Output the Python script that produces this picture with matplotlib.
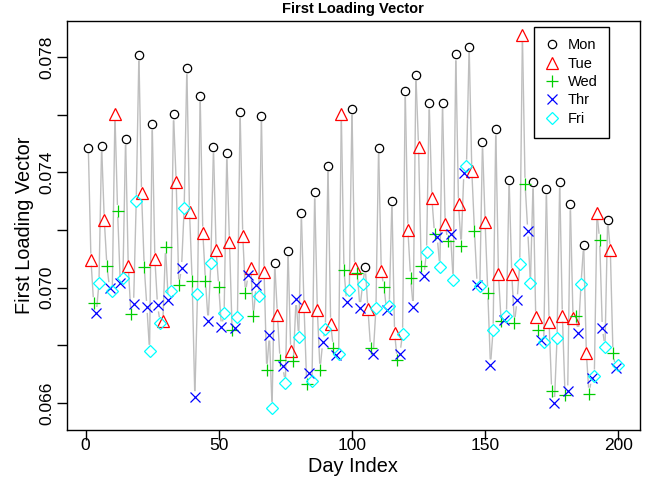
import numpy as np
import matplotlib
matplotlib.use("Agg")
import matplotlib.pyplot as plt
from matplotlib.collections import LineCollection
from matplotlib.lines import Line2D

plt.rcParams['font.family'] = ['Liberation Sans', 'DejaVu Sans']

# day index and loading value for each weekday
mon_day = [1, 6, 15, 20, 25, 33, 38, 43, 48, 53, 58, 66, 71, 76, 81, 86, 91, 100, 105, 110,
           115, 120, 124, 129, 134, 139, 144, 149, 154, 159, 168, 173, 178, 182, 187, 196]
mon_val = [.07486, .07492, .07516, .07807, .07567, .07601, .07761, .07665, .07487, .07466,
           .07609, .07596, .07085, .07128, .07258, .07330, .07423, .07620, .07070, .07486,
           .07301, .07682, .07738, .07639, .07642, .07809, .07836, .07504, .07549, .07374,
           .07365, .07341, .07366, .07289, .07149, .07235]

tue_day = [2, 7, 11, 16, 21, 26, 29, 34, 39, 44, 49, 54, 59, 62, 67, 72, 77, 82, 87, 92,
           96, 101, 106, 111, 116, 121, 125, 130, 135, 140, 145, 150, 155, 160, 164, 169,
           174, 179, 183, 188, 192, 197]
tue_val = [.07097, .07235, .07601, .07074, .07328, .07099, .06883, .07366, .07264, .07191,
           .07129, .07159, .07180, .07068, .07054, .06906, .06781, .06935, .06921, .06875,
           .07601, .07068, .06926, .07058, .06843, .07201, .07489, .07310, .07220, .07289,
           .07405, .07226, .07047, .07047, .07876, .06897, .06881, .06903, .06894, .06773,
           .07258, .07131]

wed_day = [3, 8, 12, 17, 22, 30, 35, 40, 45, 50, 55, 60, 63, 68, 73, 78, 83, 88, 93, 97,
           102, 107, 112, 117, 122, 126, 131, 136, 141, 146, 151, 156, 161, 165, 170, 175,
           180, 184, 189, 193, 198]
wed_val = [.06946, .07074, .07266, .06910, .07071, .07140, .07008, .07022, .07022, .07001,
           .06852, .06981, .06900, .06715, .06750, .06744, .06666, .06715, .06791, .07060,
           .07050, .06791, .07001, .06750, .07035, .07074, .07186, .07162, .07146, .07195,
           .06983, .06883, .06877, .07360, .06854, .06643, .06629, .06903, .06632, .07166,
           .06773]

thr_day = [4, 9, 13, 18, 23, 27, 31, 36, 41, 46, 51, 56, 61, 64, 69, 74, 79, 84, 89, 94,
           98, 103, 108, 113, 118, 123, 127, 132, 137, 142, 147, 152, 157, 162, 166, 171,
           176, 181, 185, 190, 194, 199]
thr_val = [.06912, .06998, .07016, .06944, .06933, .06938, .06958, .07068, .06620, .06883,
           .06862, .06860, .07045, .07008, .06837, .06727, .06960, .06704, .06810, .06767,
           .06949, .06929, .06770, .06923, .06771, .06933, .07041, .07177, .07186, .07397,
           .07010, .06730, .06889, .06956, .07198, .06817, .06600, .06640, .06843, .06687,
           .06860, .06721]

fri_day = [5, 10, 14, 19, 24, 28, 32, 37, 42, 47, 52, 57, 65, 70, 75, 80, 85, 90, 95, 99,
           104, 109, 114, 119, 128, 133, 138, 143, 148, 153, 158, 163, 167, 172, 177, 186,
           191, 195, 200]
fri_val = [.07016, .06987, .07035, .07301, .06781, .06877, .06989, .07276, .06978, .07085,
           .06912, .06897, .06972, .06583, .06669, .06829, .06675, .06858, .06770, .06990,
           .07012, .06929, .06937, .06840, .07125, .07071, .07027, .07423, .07004, .06854,
           .06903, .07083, .07016, .06810, .06825, .07013, .06695, .06794, .06733]

labels = ['Mon', 'Tue', 'Wed', 'Thr', 'Fri']

fig = plt.figure(figsize=(6.56, 4.78), dpi=100)
ax = fig.add_axes([67.1 / 656, 48 / 478, 572.4 / 656, 409 / 478])
ax.set_xlim(-6.96, 207.96)
ax.set_ylim(0.06506, 0.07925)

# gray line through all days, with small gaps at the points (like R type="b")
days = np.array(mon_day + tue_day + wed_day + thr_day + fri_day, dtype=float)
vals = np.array(mon_val + tue_val + wed_val + thr_val + fri_val)
order = np.argsort(days)
pts = np.column_stack([days[order], vals[order]])
disp = ax.transData.transform(pts)
inv = ax.transData.inverted()
gap = 6.0
segs = []
for i in range(len(disp) - 1):
    p, q = disp[i], disp[i + 1]
    L = np.hypot(*(q - p))
    if L > 2 * gap:
        u = (q - p) / L
        segs.append(inv.transform(np.array([p + u * gap, q - u * gap])))
ax.add_collection(LineCollection(segs, colors='#bebebe', linewidths=1.0, zorder=1))

mk = dict(linestyle='none', markeredgewidth=0.9, zorder=3)
ax.plot(mon_day, mon_val, marker='o', ms=6, mfc='none', mec='black', **mk)
ax.plot(tue_day, tue_val, marker='^', ms=8, mfc='none', mec='#ff0000', **mk)
ax.plot(wed_day, wed_val, marker='+', ms=9, mec='#00cd00', **mk)
ax.plot(thr_day, thr_val, marker='x', ms=7.5, mec='#0000ff', **mk)
ax.plot(fri_day, fri_val, marker='D', ms=6.5, mfc='none', mec='#00ffff', **mk)

ax.set_xticks([0, 50, 100, 150, 200])
yt = [0.066, 0.068, 0.070, 0.072, 0.074, 0.076, 0.078]
ax.set_yticks(yt)
ax.set_yticklabels(['0.066', '', '0.070', '', '0.074', '', '0.078'],
                   rotation=90, va='center')
ax.tick_params(direction='out', length=7, width=1, labelsize=12.5)
ax.tick_params(axis='x', pad=-1.5)
ax.tick_params(axis='y', pad=2.2)
for s in ax.spines.values():
    s.set_linewidth(1.0)

ax.set_xlabel('Day Index', fontsize=14.3, labelpad=3.4)
ax.set_ylabel('First Loading Vector', fontsize=14.3, labelpad=3.6)
fig.text(353 / 656, 1 - 9 / 478, 'First Loading Vector', fontsize=10.5,
         fontweight='bold', ha='center', va='center')

handles = [
    Line2D([], [], marker='o', ms=6, mfc='none', mec='black', **mk),
    Line2D([], [], marker='^', ms=8, mfc='none', mec='#ff0000', **mk),
    Line2D([], [], marker='+', ms=9, mec='#00cd00', **mk),
    Line2D([], [], marker='x', ms=7.5, mec='#0000ff', **mk),
    Line2D([], [], marker='D', ms=6.5, mfc='none', mec='#00ffff', **mk),
]
leg = ax.legend(handles, labels, loc='upper right', fontsize=10.5,
                bbox_to_anchor=(609.3 / 656, 1 - 26.7 / 478),
                bbox_transform=fig.transFigure, borderaxespad=0,
                fancybox=False, edgecolor='black', framealpha=1,
                borderpad=0.8, labelspacing=0.3, handlelength=0.8,
                handletextpad=0.7)
leg.get_frame().set_linewidth(1.0)

fig.savefig('out.png', dpi=100)
